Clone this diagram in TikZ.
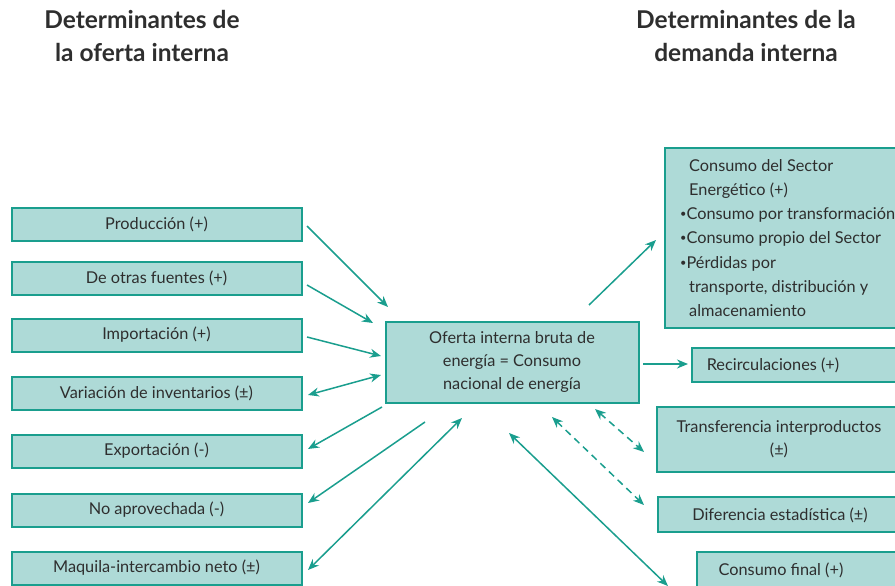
\documentclass[tikz,border=0pt]{standalone}
\usepackage{fontspec}
\setmainfont{Lato}
\usetikzlibrary{arrows.meta}
\definecolor{tealline}{HTML}{1A9E8E}
\definecolor{tealfill}{HTML}{AEDAD7}
\definecolor{txt}{HTML}{2E2E2E}
\newcommand{\smbul}{\raisebox{1.2pt}{\fontsize{11}{11}\selectfont•}}
\tikzset{
  box/.style={draw=tealline, fill=tealfill, line width=2pt, inner sep=0pt, text=txt, font=\fontsize{16.3}{19}\selectfont},
  lbl/.style={text=txt, font=\fontsize{16.3}{19}\selectfont, inner sep=0pt},
  conn/.style={draw=tealline, line width=1.5pt, -{Stealth[length=11pt,width=9pt]}},
  dconn/.style={draw=tealline, line width=1.5pt, {Stealth[length=11pt,width=9pt]}-{Stealth[length=11pt,width=9pt]}},
  ttl/.style={text=txt, font=\fontsize{24.5}{33}\selectfont\bfseries, align=center, inner sep=0pt}
}
\begin{document}
\begin{tikzpicture}[x=1pt,y=-1pt]
\useasboundingbox (0,0) rectangle (895,586);
\clip (0,0) rectangle (895,586);
% titles
\node[ttl] (t1) at (142,36) {Determinantes de\\la oferta interna};
\node[ttl] (t2) at (746,36) {Determinantes de la\\demanda interna};
% left boxes
\node[box, minimum width=290pt, minimum height=33pt] (prod) at (156.5,224) {Producción (+)};
\node[box, minimum width=290pt, minimum height=33pt] (otras) at (156.5,278) {De otras fuentes (+)};
\node[box, minimum width=290pt, minimum height=33pt] (imp) at (156.5,335) {Importación (+)};
\node[box, minimum width=290pt, minimum height=33pt] (var) at (156.5,393) {Variación de inventarios (±)};
\node[box, minimum width=290pt, minimum height=33pt] (exp) at (156.5,451) {Exportación (-)};
\node[box, minimum width=290pt, minimum height=33pt] (noap) at (156.5,510) {No aprovechada (-)};
\node[box, minimum width=290pt, minimum height=33pt] (maq) at (156.5,568) {Maquila-intercambio neto (±)};
% central
\node[box, minimum width=253pt, minimum height=81pt, align=center, font=\fontsize{16.3}{23}\selectfont] (oib) at (512,362) {Oferta interna bruta de\\energía = Consumo\\nacional de energía};
% right boxes
\node[box, minimum width=240pt, minimum height=180pt] (sec) at (785,237.5) {};
\node[box, minimum width=213pt, minimum height=34pt] (rec) at (798.5,364.5) {};
\node[box, minimum width=244pt, minimum height=65pt] (tra) at (779,439) {};
\node[box, minimum width=244pt, minimum height=35pt] (dif) at (780,514.5) {};
\node[box, minimum width=208pt, minimum height=48pt] (cf) at (801,576) {};
% right texts
\node[lbl, anchor=base west] (s1) at (689,171) {Consumo del Sector};
\node[lbl, anchor=base west] (s2) at (689,195) {Energético (+)};
\node[lbl, anchor=base west] (s3) at (680,219) {\smbul Consumo por transformación};
\node[lbl, anchor=base west] (s4) at (680,243) {\smbul Consumo propio del Sector};
\node[lbl, anchor=base west] (s5) at (680,268) {\smbul Pérdidas por};
\node[lbl, anchor=base west] (s6) at (689,292) {transporte, distribución y};
\node[lbl, anchor=base west] (s7) at (689,316) {almacenamiento};
\node[lbl] (rect) at (773,365) {Recirculaciones (+)};
\node[lbl, align=center, font=\fontsize{16.3}{23}\selectfont] (trat) at (779,439) {Transferencia interproductos\\(±)};
\node[lbl] (dift) at (780,515) {Diferencia estadística (±)};
\node[lbl] (cft) at (781,570) {Consumo final (+)};
% connector end points
\coordinate (p1a) at (307,226); \coordinate (p1b) at (388,307);
\coordinate (p2a) at (307,285); \coordinate (p2b) at (373,323);
\coordinate (p3a) at (307,337); \coordinate (p3b) at (381,356);
\coordinate (p4a) at (308,395); \coordinate (p4b) at (381,375);
\coordinate (p5a) at (382,407); \coordinate (p5b) at (308,449);
\coordinate (p6a) at (425,422); \coordinate (p6b) at (308,503);
\coordinate (p7a) at (462,418); \coordinate (p7b) at (308,570);
\coordinate (p8a) at (589,305); \coordinate (p8b) at (656,240);
\coordinate (p9a) at (643,364); \coordinate (p9b) at (688,364);
\coordinate (p10a) at (595,409); \coordinate (p10b) at (644,452);
\coordinate (p11a) at (552,417); \coordinate (p11b) at (644,505);
\coordinate (p12a) at (509,433); \coordinate (p12b) at (668,586);
% connectors
\draw[conn] (p1a) -- (p1b);
\draw[conn] (p2a) -- (p2b);
\draw[conn] (p3a) -- (p3b);
\draw[dconn] (p4a) -- (p4b);
\draw[conn] (p5a) -- (p5b);
\draw[conn] (p6a) -- (p6b);
\draw[dconn] (p7a) -- (p7b);
\draw[conn] (p8a) -- (p8b);
\draw[conn] (p9a) -- (p9b);
\draw[dconn, dash pattern=on 7pt off 5pt] (p10a) -- (p10b);
\draw[dconn, dash pattern=on 7pt off 5pt] (p11a) -- (p11b);
\draw[dconn] (p12a) -- (p12b);
\end{tikzpicture}
\end{document}
